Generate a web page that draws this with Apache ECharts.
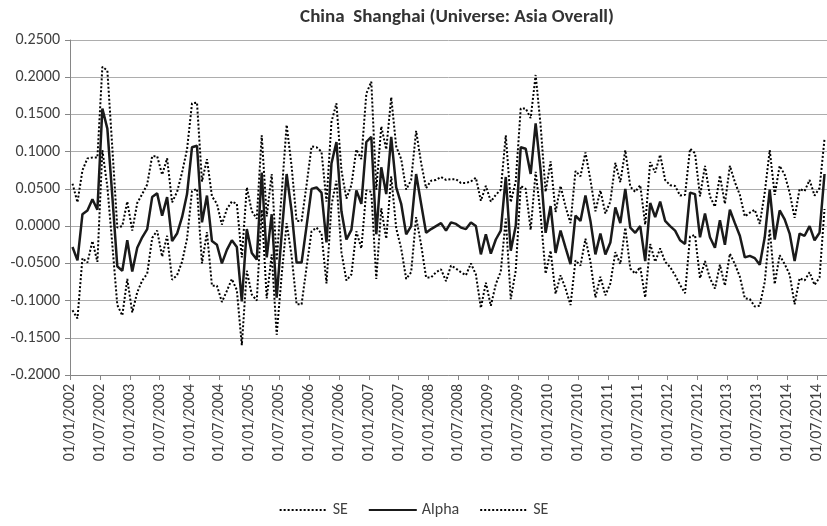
<!DOCTYPE html>
<html lang="en">
<head>
    <meta charset="UTF-8">
    <title>China Shanghai</title>
    <script src="https://cdn.jsdelivr.net/npm/echarts@6/dist/echarts.min.js"></script>
    <style>
        html, body { margin: 0; padding: 0; background: #fff; }
        #main { width: 827px; height: 526px; }
    </style>
</head>
<body>
    <div id="main"></div>
    <script>
        // x axis tick labels, one every 6 months
        var tickLabels = ['01/01/2002','01/07/2002','01/01/2003','01/07/2003','01/01/2004','01/07/2004',
            '01/01/2005','01/07/2005','01/01/2006','01/07/2006','01/01/2007','01/07/2007',
            '01/01/2008','01/07/2008','01/01/2009','01/07/2009','01/01/2010','01/07/2010',
            '01/01/2011','01/07/2011','01/01/2012','01/07/2012','01/01/2013','01/07/2013',
            '01/01/2014','01/07/2014'];

        // monthly values, Jan 2002 .. Aug 2014
        var alpha = [
            -0.028,-0.046,0.016,0.021,0.036,0.022,0.158,0.131,0.040,-0.054,-0.060,-0.019,
            -0.061,-0.029,-0.015,-0.004,0.039,0.044,0.014,0.039,-0.020,-0.010,0.012,0.043,
            0.106,0.108,0.005,0.041,-0.020,-0.025,-0.050,-0.032,-0.019,-0.028,-0.101,-0.004,
            -0.036,-0.045,0.072,-0.042,0.016,-0.096,-0.011,0.070,0.020,-0.049,-0.049,0.000,
            0.050,0.052,0.045,-0.022,0.084,0.113,0.020,-0.018,-0.005,0.048,0.030,0.113,
            0.120,-0.011,0.079,0.043,0.120,0.052,0.030,-0.011,0.000,0.070,0.030,-0.009,
            -0.004,0.000,0.004,-0.006,0.005,0.003,-0.002,-0.004,0.005,0.000,-0.038,-0.011,
            -0.037,-0.018,-0.006,0.066,-0.033,0.000,0.106,0.104,0.070,0.138,0.075,-0.009,
            0.027,-0.036,-0.006,-0.029,-0.051,0.014,0.007,0.041,0.007,-0.038,-0.010,-0.038,
            -0.022,0.025,0.004,0.050,-0.002,-0.009,0.000,-0.047,0.031,0.012,0.033,0.007,
            0.000,-0.006,-0.019,-0.024,0.045,0.043,-0.015,0.017,-0.015,-0.029,0.008,-0.025,
            0.022,0.004,-0.013,-0.042,-0.040,-0.043,-0.052,-0.015,0.049,-0.018,0.021,0.009,
            -0.010,-0.047,-0.010,-0.013,0.000,-0.019,-0.009,0.070
        ];
        var seUpper = [
            0.057,0.032,0.075,0.091,0.092,0.092,0.214,0.209,0.105,-0.002,0.000,0.033,
            -0.006,0.031,0.043,0.056,0.094,0.094,0.069,0.091,0.032,0.046,0.072,0.103,
            0.165,0.166,0.060,0.090,0.040,0.030,0.002,0.023,0.033,0.030,-0.042,0.052,
            0.020,0.010,0.122,0.013,0.070,-0.046,0.044,0.136,0.080,0.007,0.007,0.055,
            0.107,0.106,0.100,0.033,0.140,0.165,0.075,0.037,0.055,0.103,0.090,0.178,
            0.194,0.049,0.134,0.103,0.173,0.107,0.090,0.049,0.062,0.128,0.085,0.051,
            0.061,0.062,0.066,0.062,0.063,0.063,0.058,0.058,0.060,0.065,0.034,0.054,
            0.033,0.042,0.049,0.122,0.032,0.060,0.158,0.158,0.145,0.203,0.135,0.046,
            0.087,0.019,0.054,0.026,0.004,0.074,0.067,0.099,0.062,0.020,0.048,0.017,
            0.033,0.085,0.059,0.102,0.053,0.046,0.055,0.002,0.086,0.072,0.096,0.062,
            0.055,0.054,0.041,0.042,0.104,0.098,0.040,0.081,0.040,0.026,0.068,0.030,
            0.081,0.059,0.042,0.013,0.018,0.022,0.003,0.045,0.102,0.042,0.081,0.069,
            0.045,0.011,0.050,0.047,0.062,0.041,0.051,0.117
        ];
        var seLower = [
            -0.113,-0.124,-0.043,-0.049,-0.020,-0.048,0.102,0.053,-0.025,-0.106,-0.120,-0.071,
            -0.116,-0.089,-0.073,-0.064,-0.016,-0.006,-0.041,-0.013,-0.072,-0.066,-0.048,-0.017,
            0.047,0.050,-0.050,-0.008,-0.080,-0.080,-0.102,-0.087,-0.071,-0.086,-0.160,-0.060,
            -0.092,-0.100,0.022,-0.097,-0.038,-0.146,-0.066,0.004,-0.040,-0.105,-0.105,-0.055,
            -0.007,-0.002,-0.010,-0.077,0.028,0.061,-0.035,-0.073,-0.065,-0.007,-0.030,0.048,
            0.046,-0.071,0.024,-0.017,0.067,-0.003,-0.030,-0.071,-0.062,0.012,-0.025,-0.069,
            -0.069,-0.062,-0.058,-0.074,-0.053,-0.057,-0.062,-0.066,-0.050,-0.065,-0.110,-0.076,
            -0.107,-0.078,-0.061,0.010,-0.098,-0.060,0.054,0.050,-0.005,0.073,0.015,-0.064,
            -0.033,-0.091,-0.066,-0.084,-0.106,-0.046,-0.053,-0.017,-0.048,-0.096,-0.068,-0.093,
            -0.077,-0.035,-0.051,-0.002,-0.057,-0.064,-0.055,-0.096,-0.024,-0.048,-0.030,-0.048,
            -0.055,-0.066,-0.079,-0.090,-0.014,-0.012,-0.070,-0.047,-0.070,-0.084,-0.052,-0.080,
            -0.037,-0.051,-0.068,-0.097,-0.098,-0.108,-0.107,-0.075,-0.004,-0.078,-0.039,-0.051,
            -0.065,-0.105,-0.070,-0.073,-0.062,-0.079,-0.069,0.023
        ];

        var fontFam = 'Carlito, Calibri, "Liberation Sans", sans-serif';
        var txtColor = '#404040';

        // points sit in the middle of each month slot
        function toPoints(arr) {
            return arr.map(function (v, i) { return [i + 0.5, v]; });
        }

        var mycharts = echarts.init(document.getElementById('main'), null, {renderer: 'canvas'});

        var dotted = {color: '#000', width: 2, type: [2, 2]};

        var options = {
            animation: false,
            title: {
                text: 'China  Shanghai (Universe: Asia Overall)',
                left: 452,
                top: 3,
                textAlign: 'center',
                textStyle: {fontFamily: fontFam, fontSize: 19, fontWeight: 'bold', color: '#333'}
            },
            legend: {
                bottom: 3,
                left: 'center',
                itemWidth: 48,
                itemHeight: 12,
                itemGap: 20,
                itemStyle: {opacity: 0},
                textStyle: {fontFamily: fontFam, fontSize: 16, color: txtColor},
                formatter: function (n) { return n === 'SE2' ? 'SE' : n; },
                data: ['SE', 'Alpha', 'SE2']
            },
            grid: {left: 70, right: 0, top: 40, bottom: 151},
            xAxis: {
                type: 'value',
                min: 0,
                max: alpha.length,
                interval: 6,
                axisLine: {show: true, onZero: false, lineStyle: {color: '#868686'}},
                axisTick: {show: true, length: 5, lineStyle: {color: '#868686'}},
                splitLine: {show: false},
                axisLabel: {
                    rotate: 90,
                    margin: 9,
                    showMaxLabel: false,
                    fontFamily: fontFam,
                    fontSize: 16,
                    color: txtColor,
                    formatter: function (v) { return tickLabels[v / 6] || ''; }
                }
            },
            yAxis: {
                type: 'value',
                min: -0.2,
                max: 0.25,
                interval: 0.05,
                axisLine: {show: true, lineStyle: {color: '#868686'}},
                axisTick: {show: true, length: 5, lineStyle: {color: '#868686'}},
                splitLine: {show: true, lineStyle: {color: '#adadad', width: 1}},
                axisLabel: {
                    margin: 10,
                    fontFamily: fontFam,
                    fontSize: 16,
                    color: txtColor,
                    formatter: function (v) { return v.toFixed(4); }
                }
            },
            series: [{
                name: 'SE',
                type: 'line',
                data: toPoints(seUpper),
                showSymbol: false,
                symbol: 'none',
                lineStyle: dotted,
                itemStyle: {color: '#000'},
                z: 2
            }, {
                name: 'Alpha',
                type: 'line',
                data: toPoints(alpha),
                showSymbol: false,
                symbol: 'none',
                lineStyle: {color: '#1a1a1a', width: 2.5},
                itemStyle: {color: '#000'},
                z: 3
            }, {
                name: 'SE2',
                type: 'line',
                data: toPoints(seLower),
                showSymbol: false,
                symbol: 'none',
                lineStyle: dotted,
                itemStyle: {color: '#000'},
                z: 2
            }]
        };

        mycharts.setOption(options);
    </script>
</body>
</html>
